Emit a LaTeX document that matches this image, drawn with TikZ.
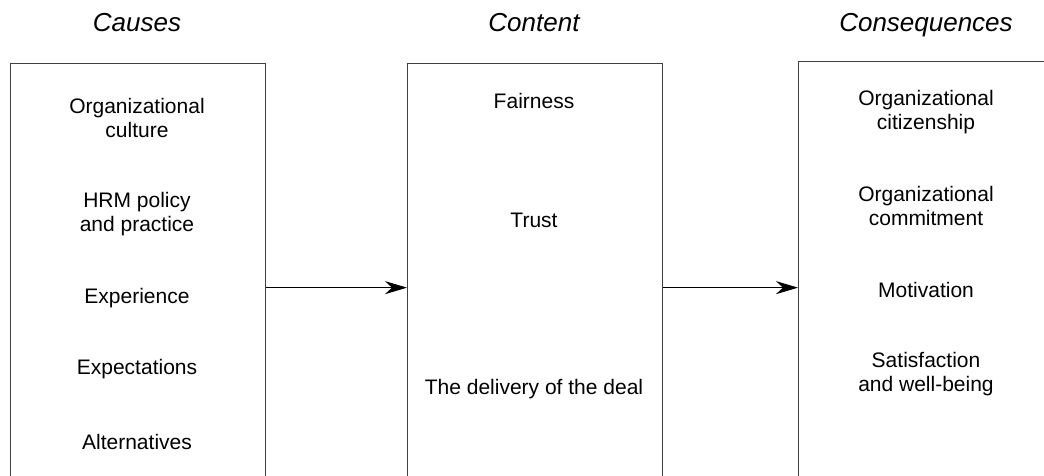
\documentclass[tikz,border=0pt]{standalone}
\usepackage{fontspec}
\setmainfont{Liberation Sans}
\usetikzlibrary{arrows.meta}
\begin{document}
\begin{tikzpicture}[x=1pt,y=-1pt,
  colbox/.style={draw=black!75,line width=1.3pt,minimum width=255pt,anchor=north west,inner sep=0pt},
  heading/.style={anchor=base,font=\fontsize{26}{30}\selectfont\itshape},
  item/.style={align=center,font=\fontsize{21}{23.5}\selectfont},
  flow/.style={-{Stealth[length=22pt,width=13pt,inset=7pt]},line width=1pt}]
  \clip (0,0) rectangle (1044,476);
  %Columns
  \node[colbox,minimum height=448pt] (causes) at (10,63) {};
  \node[colbox,minimum height=448pt] (content) at (407,63) {};
  \node[colbox,minimum height=452pt] (conseq) at (798,61) {};
  \node[heading] (causesT) at (137,32) {Causes};
  \node[heading] (contentT) at (534,32) {Content};
  \node[heading] (conseqT) at (926,32) {Consequences};
    %Items
    \foreach \y/\t [count=\i] in {118/{Organizational\\culture},214/{HRM policy\\and practice},
        298/Experience,369/Expectations,442/Alternatives}
      \node[item] (cause\i) at (137,\y) {\t};
    \foreach \y/\t [count=\i] in {101/Fairness,220/Trust,389/The delivery of the deal}
      \node[item] (cont\i) at (534,\y) {\t};
    \foreach \y/\t [count=\i] in {112/{Organizational\\citizenship},206/{Organizational\\commitment},
        290/Motivation,374/{Satisfaction\\and well-being}}
      \node[item] (cons\i) at (926,\y) {\t};
  \draw[flow] (causes.east)--(content.west);
  \draw[flow] (content.east)--(conseq.west);
\end{tikzpicture}
\end{document}
